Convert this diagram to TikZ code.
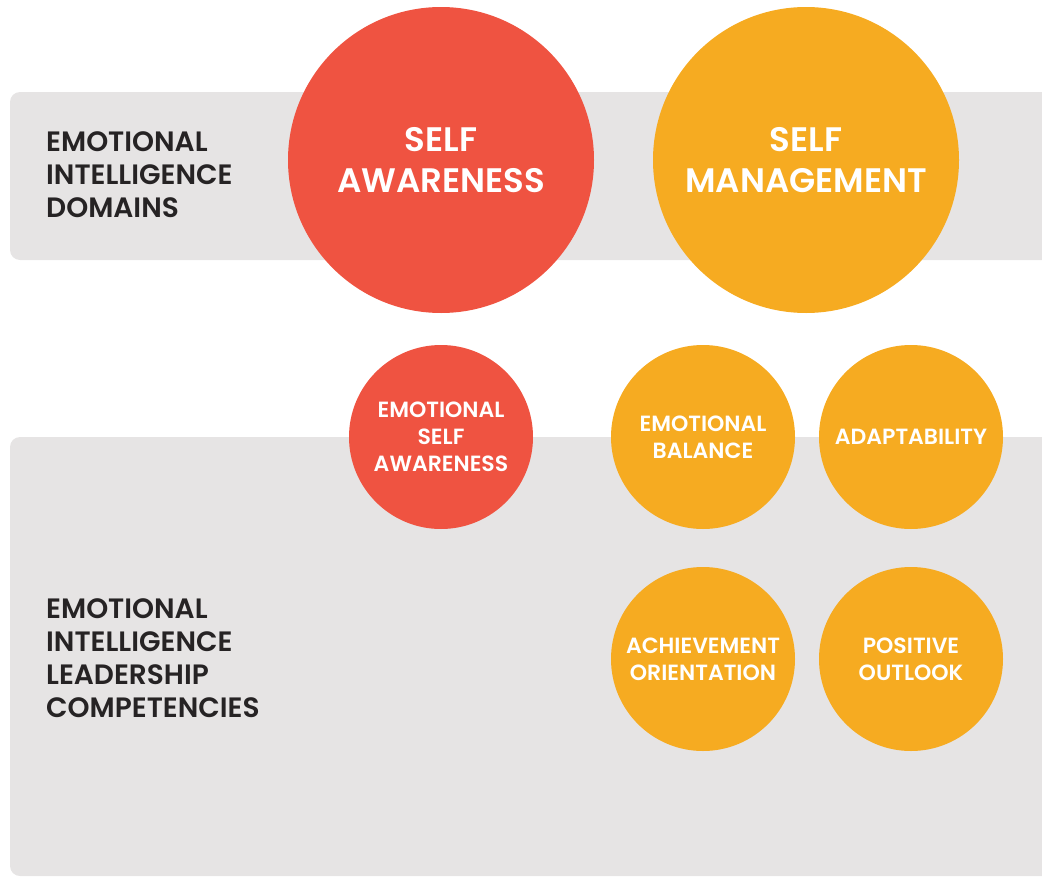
\documentclass[tikz,border=0pt]{standalone}
\usepackage{fontspec}
\setmainfont{Poppins}[BoldFont={Poppins SemiBold}]

\definecolor{bandgray}{HTML}{E6E4E4}
\definecolor{selfred}{HTML}{EF5341}
\definecolor{selforange}{HTML}{F6AB21}
\definecolor{labeltext}{HTML}{262324}

\tikzset{
    domaincircle/.style={circle, inner sep=0pt, minimum size=306pt, align=center,
        text=white, font=\bfseries\fontsize{34}{41}\selectfont},
    skillcircle/.style={circle, inner sep=0pt, minimum size=184pt, align=center,
        text=white, font=\bfseries\fontsize{22}{27}\selectfont},
    bandlabel/.style={anchor=north west, inner sep=0pt, align=left,
        text=labeltext, font=\bfseries\fontsize{28}{33}\selectfont}
}

\begin{document}
\begin{tikzpicture}[x=1pt, y=-1pt]
        % Page size
        \useasboundingbox (0,0) rectangle (1042,878);
        \clip (0,0) rectangle (1042,878);

        % Calculate the coordinates
        \coordinate (SA) at (441, 160);
        \coordinate (SM) at (806, 160);
        \coordinate (ESA) at (441, 437);
        \coordinate (EB) at (703, 437);
        \coordinate (AD) at (911, 437);
        \coordinate (AO) at (703, 659);
        \coordinate (PO) at (911, 659);

        % Draw the grey bands
        \fill[bandgray, rounded corners=10pt] (10,92) rectangle (1080,260);
        \fill[bandgray, rounded corners=10pt] (10,437) rectangle (1080,876);

        % Label the bands
        \node[bandlabel] (domains) at (46,131) {EMOTIONAL\\INTELLIGENCE\\DOMAINS};
        \node[bandlabel] (leadership) at (46,598) {EMOTIONAL\\INTELLIGENCE\\LEADERSHIP\\COMPETENCIES};

        % Draw the domains
        \node[domaincircle, fill=selfred] (selfaware) at (SA) {SELF\\AWARENESS};
        \node[domaincircle, fill=selforange] (selfmanage) at (SM) {SELF\\MANAGEMENT};

        % Draw the competencies
        \node[skillcircle, fill=selfred] (emoself) at (ESA) {EMOTIONAL\\SELF\\AWARENESS};
        \node[skillcircle, fill=selforange] (emobal) at (EB) {EMOTIONAL\\BALANCE};
        \node[skillcircle, fill=selforange] (adapt) at (AD) {ADAPTABILITY};
        \node[skillcircle, fill=selforange] (achieve) at (AO) {ACHIEVEMENT\\ORIENTATION};
        \node[skillcircle, fill=selforange] (outlook) at (PO) {POSITIVE\\OUTLOOK};
    \end{tikzpicture}
\end{document}
